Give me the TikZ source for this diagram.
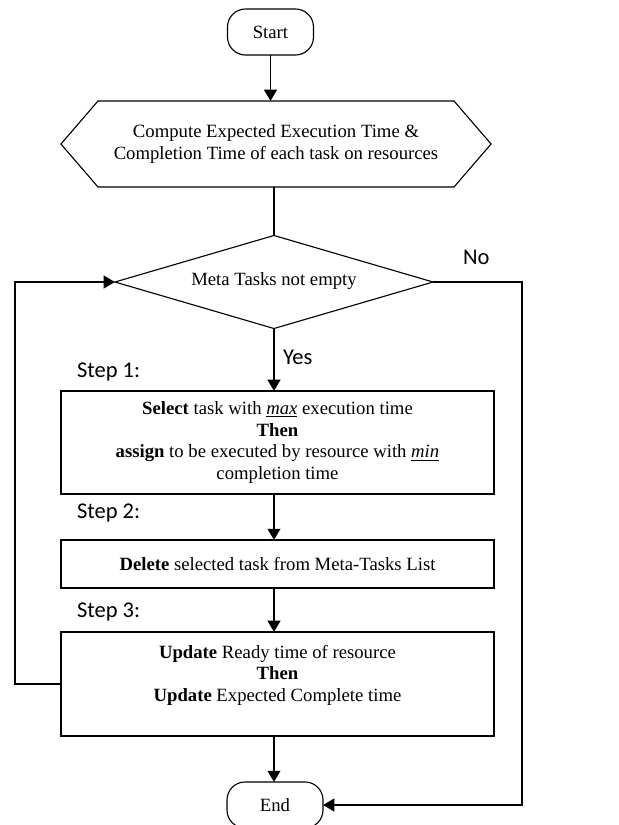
\documentclass[tikz,border=0pt]{standalone}
\usepackage{fontspec}
\setmainfont{Liberation Serif}
\newfontfamily\calib{Carlito}
\usetikzlibrary{shapes.geometric,arrows.meta}

\begin{document}
\begin{tikzpicture}[x=0.025cm, y=-0.025cm,
  every node/.style={font=\fontsize{13.3}{15.4}\selectfont, align=center, inner sep=0pt, outer sep=0pt},
  term/.style={draw, line width=0.8pt, rounded corners=0.45cm, minimum height=1.15cm},
  hexbox/.style={minimum width=8.9cm, minimum height=2.15cm},
  decide/.style={draw, shape=diamond, line width=0.8pt, aspect=3.42, minimum width=7.95cm, minimum height=2.325cm},
  stepbox/.style={draw, line width=0.8pt, minimum width=10.825cm},
  steplabel/.style={font=\calib\fontsize{16}{19}\selectfont, anchor=west},
  conn/.style={line width=1.4pt, -{Triangle[width=9pt,length=8pt]}},
  plain/.style={line width=1.4pt}]
\useasboundingbox (0,0) rectangle (619,825);
\clip (0,0) rectangle (619,825);

% shapes
\node[term, minimum width=2.15cm] (start) at (270.5,32) {Start};
\node[hexbox] (comp) at (276,144) {Compute Expected Execution Time \&\\Completion Time of each task on resources};
\draw[line width=0.8pt] (comp.north west) -- (comp.north east) -- ++(37,43) -- (comp.south east)
  -- (comp.south west) -- ++(-37,-43) -- cycle;
\node[decide] (test) at (274,282) {\raisebox{4pt}{Meta Tasks not empty}};
\node[stepbox, minimum height=2.575cm] (sel) at (277.5,442.5) {\textbf{Select} task with \underline{\textit{max}} execution time\\\textbf{Then}\\\textbf{assign} to be executed by resource with \underline{\textit{min}}\\completion time};
\node[stepbox, minimum height=1.2cm] (del) at (277.5,564) {\textbf{Delete} selected task from Meta-Tasks List};
\node[stepbox, minimum height=2.6cm] (upd) at (277.5,684) {\textbf{Update} Ready time of resource\\\textbf{Then}\\\textbf{Update} Expected Complete time\\\mbox{}};
\node[term, minimum width=2.4cm] (stop) at (275,805) {End};

% labels
\node[steplabel] (s1) at (77,372) {Step 1:};
\node[steplabel] (s2) at (77,513) {Step 2:};
\node[steplabel] (s3) at (77,612) {Step 3:};
\node[steplabel] (yes) at (283,357) {Yes};
\node[steplabel] (no) at (463,257) {No};

% connectors
\draw[conn] (start.south) -- (start.south |- comp.north);
\draw[plain] (comp.south -| test.north) -- (test.north);
\draw[conn] (test.south) -- (test.south |- sel.north);
\draw[conn] (sel.south -| test.south) -- (del.north -| test.south);
\draw[conn] (del.south -| test.south) -- (upd.north -| test.south);
\draw[conn] (upd.south -| test.south) -- (stop.north -| test.south);
\draw[conn] (upd.west) -- ++(-46,0) |- (test.west);
\draw[conn] (test.east) -- ++(89,0) |- (stop.east);
\end{tikzpicture}
\end{document}
